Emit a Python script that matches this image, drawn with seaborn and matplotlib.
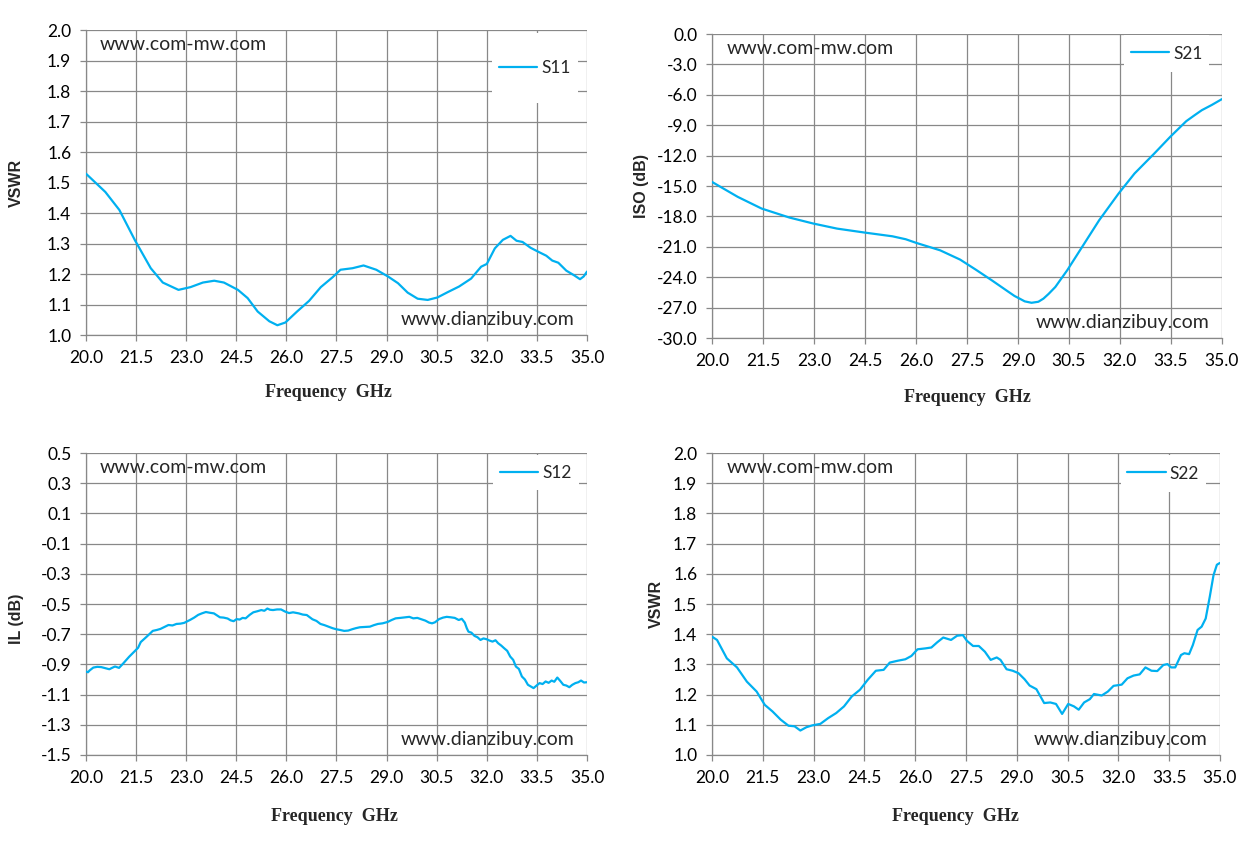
import numpy as np
import pandas as pd
import seaborn as sns
import matplotlib.pyplot as plt
from matplotlib.patches import Rectangle
from matplotlib.ticker import FormatStrFormatter

# S11 (VSWR)
s11_f = [20.0, 20.58, 21.0, 21.47, 21.94, 22.3, 22.77, 23.13, 23.5, 23.84, 24.13, 24.55, 24.84,
         25.14, 25.49, 25.73, 25.97, 26.32, 26.68, 27.03, 27.39, 27.62, 27.98, 28.31, 28.69,
         29.04, 29.34, 29.63, 29.93, 30.23, 30.52, 30.82, 31.17, 31.53, 31.83, 32.0, 32.24,
         32.48, 32.71, 32.89, 33.07, 33.31, 33.54, 33.78, 33.96, 34.14, 34.38, 34.61, 34.79,
         34.9, 35.0]
s11_v = [1.529, 1.469, 1.41, 1.31, 1.219, 1.172, 1.148, 1.157, 1.172, 1.178, 1.172, 1.148, 1.121,
         1.077, 1.045, 1.032, 1.041, 1.077, 1.112, 1.157, 1.19, 1.214, 1.219, 1.228, 1.214,
         1.192, 1.17, 1.139, 1.119, 1.115, 1.123, 1.14, 1.159, 1.185, 1.224, 1.233, 1.284,
         1.312, 1.325, 1.309, 1.305, 1.286, 1.273, 1.26, 1.244, 1.237, 1.211, 1.196, 1.183,
         1.192, 1.208]

# S21 (isolation)
s21_f = [20.0, 20.76, 21.46, 22.28, 22.98, 23.68, 24.49, 25.31, 25.7, 26.01, 26.71, 27.3, 27.76,
         28.23, 28.7, 28.9, 29.05, 29.2, 29.4, 29.6, 29.75, 29.9, 30.1, 30.25, 30.45, 30.92,
         31.39, 31.96, 32.43, 33.01, 33.48, 33.95, 34.2, 34.41, 34.7, 35.0]
s21_v = [-14.59, -16.07, -17.22, -18.11, -18.7, -19.2, -19.59, -19.96, -20.25, -20.61, -21.34,
         -22.26, -23.25, -24.3, -25.39, -25.85, -26.11, -26.38, -26.52, -26.42, -26.11, -25.65,
         -24.96, -24.25, -23.31, -20.84, -18.37, -15.74, -13.76, -11.79, -10.14, -8.6, -8.0,
         -7.51, -7.0, -6.42]

# S12 (insertion loss)
s12_f = [20.0, 20.06, 20.11, 20.22, 20.34, 20.46, 20.58, 20.7, 20.79, 20.87, 20.99, 21.11, 21.2,
         21.29, 21.38, 21.47, 21.56, 21.64, 21.82, 22.0, 22.12, 22.23, 22.35, 22.47, 22.59,
         22.71, 22.83, 22.94, 23.03, 23.12, 23.24, 23.36, 23.47, 23.59, 23.71, 23.83, 23.92,
         24.01, 24.12, 24.24, 24.33, 24.42, 24.51, 24.6, 24.69, 24.78, 24.9, 25.01, 25.13,
         25.25, 25.34, 25.43, 25.51, 25.6, 25.72, 25.84, 25.96, 26.08, 26.2, 26.37, 26.49,
         26.61, 26.7, 26.78, 26.9, 27.02, 27.14, 27.26, 27.38, 27.49, 27.61, 27.73, 27.85,
         27.97, 28.08, 28.2, 28.35, 28.5, 28.62, 28.74, 28.88, 29.03, 29.15, 29.27, 29.41,
         29.56, 29.68, 29.8, 29.92, 30.04, 30.16, 30.27, 30.36, 30.45, 30.57, 30.69, 30.8,
         30.92, 31.04, 31.16, 31.25, 31.34, 31.4, 31.45, 31.54, 31.63, 31.72, 31.81, 31.9,
         31.99, 32.08, 32.17, 32.26, 32.34, 32.43, 32.52, 32.61, 32.7, 32.79, 32.87, 32.96,
         33.05, 33.14, 33.23, 33.31, 33.4, 33.49, 33.58, 33.67, 33.76, 33.85, 33.94, 34.02,
         34.11, 34.2, 34.29, 34.38, 34.47, 34.56, 34.65, 34.74, 34.82, 34.91, 35.0]
s12_v = [-0.947, -0.952, -0.94, -0.921, -0.916, -0.918, -0.925, -0.932, -0.922, -0.914, -0.923,
         -0.895, -0.872, -0.85, -0.83, -0.81, -0.79, -0.752, -0.716, -0.678, -0.672, -0.665,
         -0.652, -0.639, -0.642, -0.632, -0.63, -0.625, -0.615, -0.605, -0.59, -0.572, -0.562,
         -0.553, -0.558, -0.562, -0.575, -0.588, -0.59, -0.596, -0.608, -0.614, -0.6, -0.603,
         -0.592, -0.595, -0.572, -0.555, -0.548, -0.54, -0.545, -0.53, -0.538, -0.54, -0.536,
         -0.536, -0.55, -0.56, -0.555, -0.562, -0.57, -0.573, -0.588, -0.601, -0.612, -0.632,
         -0.64, -0.65, -0.66, -0.667, -0.672, -0.678, -0.676, -0.667, -0.66, -0.654, -0.652,
         -0.65, -0.64, -0.632, -0.628, -0.619, -0.606, -0.595, -0.592, -0.588, -0.585, -0.595,
         -0.592, -0.601, -0.61, -0.623, -0.628, -0.621, -0.6, -0.59, -0.585, -0.588, -0.592,
         -0.606, -0.598, -0.623, -0.66, -0.683, -0.69, -0.711, -0.72, -0.738, -0.728, -0.733,
         -0.742, -0.749, -0.74, -0.76, -0.775, -0.793, -0.81, -0.848, -0.87, -0.914, -0.93,
         -0.98, -1.0, -1.035, -1.045, -1.057, -1.04, -1.024, -1.03, -1.013, -1.022, -1.007,
         -1.015, -0.987, -1.01, -1.035, -1.04, -1.051, -1.035, -1.024, -1.018, -1.007, -1.02,
         -1.018]

# S22 (VSWR)
s22_f = [20.0, 20.15, 20.44, 20.74, 21.03, 21.32, 21.56, 21.79, 22.03, 22.26, 22.44, 22.61,
         22.79, 22.96, 23.2, 23.43, 23.67, 23.9, 24.13, 24.37, 24.6, 24.84, 25.07, 25.25,
         25.48, 25.71, 25.89, 26.07, 26.3, 26.48, 26.65, 26.83, 27.06, 27.24, 27.41, 27.53,
         27.71, 27.88, 28.06, 28.23, 28.41, 28.52, 28.7, 28.88, 29.05, 29.23, 29.38, 29.58,
         29.81, 29.99, 30.16, 30.34, 30.52, 30.69, 30.83, 30.99, 31.16, 31.28, 31.51, 31.69,
         31.86, 32.1, 32.27, 32.45, 32.63, 32.8, 32.98, 33.15, 33.33, 33.45, 33.56, 33.68,
         33.85, 33.95, 34.09, 34.2, 34.34, 34.46, 34.58, 34.7, 34.81, 34.91, 35.0]
s22_v = [1.392, 1.381, 1.32, 1.29, 1.243, 1.21, 1.166, 1.144, 1.117, 1.097, 1.095, 1.081,
         1.092, 1.098, 1.103, 1.122, 1.139, 1.161, 1.194, 1.216, 1.249, 1.279, 1.282, 1.306,
         1.312, 1.317, 1.328, 1.35, 1.353, 1.356, 1.373, 1.389, 1.381, 1.395, 1.397, 1.378,
         1.361, 1.361, 1.342, 1.315, 1.323, 1.315, 1.284, 1.279, 1.271, 1.251, 1.23, 1.218,
         1.172, 1.174, 1.169, 1.136, 1.169, 1.161, 1.15, 1.174, 1.185, 1.202, 1.197, 1.21,
         1.229, 1.233, 1.254, 1.263, 1.267, 1.29, 1.279, 1.278, 1.298, 1.301, 1.29, 1.29,
         1.331, 1.337, 1.334, 1.364, 1.414, 1.425, 1.452, 1.524, 1.595, 1.63, 1.636]

freq_ticks = np.arange(20.0, 35.01, 1.5)

LINE = "#00B0F0"
GRID = "#888888"

sns.set_style("white")
plt.rcParams['font.family'] = ['Lato', 'DejaVu Sans']
plt.rcParams['axes.unicode_minus'] = False

fig = plt.figure(figsize=(12.53, 8.43), dpi=100)

panels = [
    # rect, f, v, name, ylabel, ylim, ystep, legend box (x0, y0, x1, y1), ylabel pos, xlabel pos
    ([0.0686, 0.6026, 0.3999, 0.3618], s11_f, s11_v, "S11", "VSWR", (1.0, 2.0), 0.1,
     (0.810, 0.761, 0.982, 0.990), (-0.138, 0.5), (0.483, -0.187)),
    ([0.5682, 0.5990, 0.4070, 0.3606], s21_f, s21_v, "S21", "ISO (dB)", (-30.0, 0.0), 3.0,
     (0.808, 0.875, 0.975, 0.997), (-0.139, 0.5), (0.5, -0.194)),
    ([0.0686, 0.1044, 0.3999, 0.3582], s12_f, s12_v, "S12", "IL (dB)", (-1.5, 0.5), 0.2,
     (0.812, 0.877, 0.984, 0.993), (-0.138, 0.45), (0.495, -0.205)),
    ([0.5682, 0.1044, 0.4054, 0.3582], s22_f, s22_v, "S22", "VSWR", (1.0, 2.0), 0.1,
     (0.805, 0.871, 0.972, 0.993), (-0.110, 0.5), (0.48, -0.205)),
]

for rect, f, v, name, ylab, ylim, ystep, lbox, ylpos, xlpos in panels:
    ax = fig.add_axes(rect)
    df = pd.DataFrame({"freq": f, "val": v})
    sns.lineplot(data=df, x="freq", y="val", ax=ax, color=LINE, linewidth=1.6, label=name,
                 zorder=3)

    ax.set_xlim(20.0, 35.0)
    ax.set_ylim(*ylim)
    ax.set_xticks(freq_ticks)
    ax.set_yticks(np.arange(ylim[0], ylim[1] + ystep / 2, ystep))
    ax.xaxis.set_major_formatter(FormatStrFormatter("%.1f"))
    ax.yaxis.set_major_formatter(FormatStrFormatter("%.1f"))

    ax.set_axisbelow(True)
    ax.grid(True, color=GRID, linewidth=0.9)
    for side in ["top", "right"]:
        ax.spines[side].set_visible(False)
    for side in ["left", "bottom"]:
        ax.spines[side].set_color(GRID)
        ax.spines[side].set_linewidth(0.9)
    ax.tick_params(axis="both", which="major", direction="out", length=4.5, width=0.9,
                   color=GRID, labelsize=12.5, labelcolor="black", pad=6, left=True, bottom=True)

    ax.set_xlabel("Frequency  GHz", family="Liberation Serif", fontweight="bold", fontsize=13)
    ax.set_ylabel(ylab, family="Liberation Sans", fontweight="bold", fontsize=11.5)
    ax.xaxis.set_label_coords(*xlpos)
    ax.xaxis.label.set_va("center")
    ax.yaxis.set_label_coords(*ylpos)
    ax.yaxis.label.set_va("center")

    ax.text(0.028, 0.952, "www.com-mw.com", transform=ax.transAxes, fontsize=14,
            ha="left", va="center")
    ax.text(0.975, 0.05, "www.dianzibuy.com", transform=ax.transAxes, fontsize=14,
            ha="right", va="center")

    # white legend area hiding the grid, legend entry centred inside it
    x0, y0, x1, y1 = lbox
    ax.add_patch(Rectangle((x0, y0), x1 - x0, y1 - y0, transform=ax.transAxes,
                           facecolor="white", edgecolor="none", zorder=1))
    ax.legend(loc="center", bbox_to_anchor=((x0 + x1) / 2, (y0 + y1) / 2),
              frameon=False, fontsize=12.5, handlelength=2.2, handletextpad=0.25,
              borderpad=0, borderaxespad=0)

fig.savefig("out.png", dpi=100)
